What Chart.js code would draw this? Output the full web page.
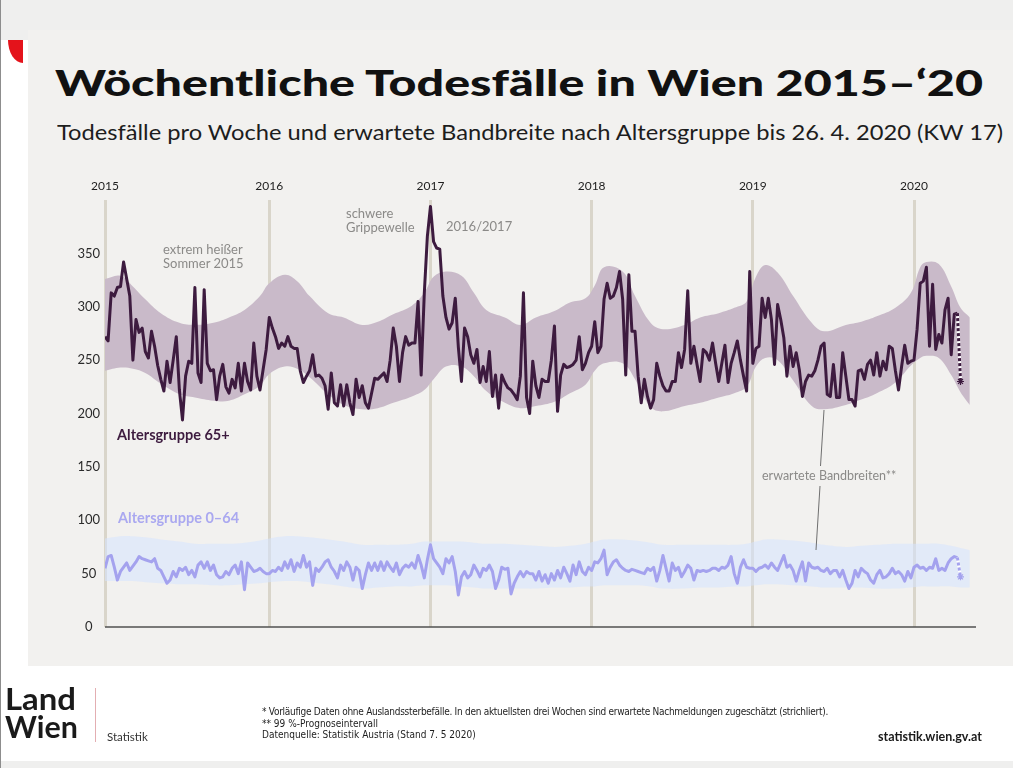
<!DOCTYPE html>
<html lang="de">
<head>
<meta charset="utf-8">
<title>Wöchentliche Todesfälle in Wien 2015–‘20</title>
<script src="https://cdn.jsdelivr.net/npm/chart.js@4.4.0/dist/chart.umd.min.js"></script>
<style>
  html, body { margin: 0; padding: 0; }
  body { width: 1013px; height: 768px; position: relative; overflow: hidden; background: #efefee; font-family: Lato, "Open Sans", sans-serif; }
  .panel { position: absolute; left: 28px; top: 30px; width: 985px; height: 636px; background: #f2f1ef; }
  .strip { position: absolute; left: 0; top: 40px; width: 28px; height: 628px; background: #fff; }
  .corner { position: absolute; left: 8px; top: 40px; width: 15px; height: 23px; background: #e4131b; border-bottom-left-radius: 100% 100%; }
  .footer { position: absolute; left: 0; top: 666px; width: 1013px; height: 95px; background: #fff; }
  .edge { position: absolute; left: 0; top: 0; width: 1px; height: 768px; background: #8d8d8d; }
  .txt { position: absolute; white-space: nowrap; transform-origin: 0 0; }
  #title { left: 55px; top: 64px; font-size: 36px; line-height: 36px; font-weight: 900; color: #111; }
  #subtitle { left: 57px; top: 121px; font-size: 21px; line-height: 21px; color: #1d1d1d; }
  .note { font-size: 13px; line-height: 13.5px; color: #8b8a88; }
  .group { font-size: 14.5px; line-height: 14.5px; font-weight: 700; }
  #wrap { position: absolute; left: 28px; top: 150px; width: 985px; height: 500px; }
  .foot { font-family: "Liberation Sans Narrow", "DejaVu Sans Condensed", sans-serif; font-size: 10px; line-height: 10px; color: #1d1d1d; left: 262px; }
  .brand { left: 5px; font-size: 31px; line-height: 31px; font-weight: 700; color: #1a1a1a; }
  svg { position: absolute; left: 0; top: 0; }
</style>
</head>
<body>
<div class="panel"></div>
<div class="strip"></div>
<div class="corner"></div>
<div class="footer"></div>
<div class="edge"></div>

<div class="txt" id="title">Wöchentliche Todesfälle in Wien 2015–‘20</div>
<div class="txt" id="subtitle">Todesfälle pro Woche und erwartete Bandbreite nach Altersgruppe bis 26. 4. 2020 (KW 17)</div>

<div id="wrap"><canvas id="deaths"></canvas></div>

<div class="txt note" style="left:163px; top:243px;">extrem heißer<br>Sommer 2015</div>
<div class="txt note" style="left:346px; top:207px;">schwere<br>Grippewelle</div>
<div class="txt note" style="left:446px; top:220px;">2016/2017</div>
<div class="txt group" id="lab65" style="left:117px; top:428px; color:#3d1b3f;">Altersgruppe 65+</div>
<div class="txt group" id="lab064" style="left:118px; top:511px; color:#aaa8f0;">Altersgruppe 0–64</div>
<div class="txt note" id="labband" style="left:762px; top:469px; font-size:12.5px;">erwartete Bandbreiten**</div>
<svg width="1013" height="768">
  <line x1="824" y1="410" x2="820.5" y2="466" stroke="#6f6f6f" stroke-width="1"/>
  <line x1="820" y1="486" x2="816" y2="550" stroke="#6f6f6f" stroke-width="1"/>
  <line x1="95.5" y1="688" x2="95.5" y2="742" stroke="#e3aeb2" stroke-width="1"/>
</svg>

<div class="txt brand" id="land" style="top:683px;">Land</div>
<div class="txt brand" id="wien" style="top:711px;">Wien</div>
<div class="txt" style="left:107px; top:730px; font-size:11.5px; color:#333;">Statistik</div>
<div class="txt foot" id="f1" style="top:707px;">* Vorläufige Daten ohne Auslandssterbefälle. In den aktuellsten drei Wochen sind erwartete Nachmeldungen zugeschätzt (strichliert).</div>
<div class="txt foot" id="f2" style="top:718.5px;">** 99 %-Prognoseintervall</div>
<div class="txt foot" id="f3" style="top:730px;">Datenquelle: Statistik Austria (Stand 7. 5 2020)</div>
<div class="txt" id="url" style="left:878px; top:729px; font-size:12.5px; font-weight:700; color:#1a1a1a;">statistik.wien.gv.at</div>

<script>
// week index 0 = KW 1/2015, years start at these indices
var yearStarts = [0, 53, 105, 157, 209, 261];
var yearLabels = ['2015', '2016', '2017', '2018', '2019', '2020'];

// deaths per week, age group 65+
var deaths65_2015 = [272, 268, 313, 310, 318, 319, 342, 326, 310, 250, 288, 276, 280, 258, 252, 277, 263, 245, 232, 221,
    249, 229, 250, 272, 222, 194, 235, 249, 247, 318, 238, 229, 316, 247, 240, 241, 213, 235, 246, 225,
    219, 232, 224, 247, 221, 247, 230, 222, 266, 235, 222, 241, 260];
var deaths65_2016 = [290, 280, 272, 261, 266, 263, 272, 263, 261, 261, 240, 229, 235, 240, 255, 235, 236, 233, 226, 204,
    238, 210, 207, 227, 207, 227, 210, 199, 232, 215, 226, 210, 205, 219, 233, 232, 235, 238, 230, 250,
    280, 263, 230, 257, 272, 264, 266, 266, 305, 236, 312, 366];
var deaths65_2017 = [394, 361, 355, 354, 310, 290, 279, 285, 308, 262, 230, 280, 272, 255, 247, 260, 229, 244, 230, 258,
    216, 236, 205, 236, 229, 224, 222, 218, 213, 235, 313, 215, 200, 249, 226, 215, 232, 230, 230, 250,
    282, 202, 236, 246, 243, 244, 246, 250, 272, 241, 247, 257];
var deaths65_2018 = [263, 286, 257, 263, 307, 322, 308, 310, 318, 333, 307, 236, 330, 277, 277, 235, 210, 232, 216, 205,
    213, 247, 235, 226, 221, 221, 230, 230, 257, 243, 260, 315, 247, 263, 246, 230, 260, 257, 250, 266,
    247, 230, 247, 264, 229, 247, 257, 268, 250, 235, 221, 333];
var deaths65_2019 = [247, 261, 263, 308, 290, 308, 288, 246, 302, 288, 271, 235, 263, 244, 257, 241, 216, 230, 236, 235,
    240, 250, 263, 266, 218, 216, 246, 215, 215, 257, 235, 213, 213, 207, 240, 241, 232, 246, 250, 236,
    257, 235, 249, 241, 263, 261, 240, 222, 244, 264, 247, 249];
var deaths65_2020 = [250, 279, 322, 324, 337, 263, 321, 260, 274, 266, 297, 308, 255, 293, 294];

// deaths per week, age group 0-64
var deaths064_2015 = [55, 66, 67, 56, 44, 52, 56, 60, 53, 57, 61, 66, 64, 63, 62, 61, 64, 55, 53, 47,
    41, 44, 52, 47, 55, 53, 56, 49, 53, 47, 58, 61, 55, 61, 53, 58, 49, 46, 47, 52,
    49, 55, 58, 50, 61, 35, 60, 56, 52, 53, 55, 52, 50];
var deaths064_2016 = [50, 53, 52, 56, 53, 61, 55, 63, 52, 60, 56, 67, 56, 61, 39, 55, 52, 56, 61, 63,
    56, 52, 46, 58, 53, 61, 56, 44, 56, 53, 36, 49, 60, 53, 60, 53, 61, 53, 61, 56,
    52, 60, 49, 55, 58, 56, 60, 55, 67, 58, 46, 63];
var deaths064_2017 = [77, 64, 60, 56, 50, 64, 60, 66, 52, 30, 47, 52, 46, 49, 58, 53, 47, 55, 53, 58,
    52, 36, 44, 56, 54, 55, 31, 41, 47, 52, 47, 52, 50, 50, 44, 52, 43, 49, 41, 50,
    44, 53, 46, 56, 50, 43, 58, 49, 61, 52, 49, 56];
var deaths064_2018 = [53, 61, 60, 64, 72, 49, 56, 61, 63, 58, 55, 53, 52, 54, 53, 52, 51, 50, 55, 53,
    56, 43, 53, 67, 55, 43, 60, 53, 56, 47, 52, 58, 55, 44, 53, 52, 53, 52, 53, 55,
    55, 53, 56, 55, 58, 66, 50, 41, 56, 63, 56, 55];
var deaths064_2019 = [55, 52, 55, 56, 58, 55, 60, 56, 53, 60, 67, 56, 58, 53, 43, 53, 61, 43, 60, 56,
    55, 56, 53, 52, 55, 50, 53, 53, 47, 53, 44, 36, 41, 53, 47, 55, 52, 50, 44, 41,
    49, 53, 46, 47, 50, 55, 50, 52, 49, 43, 52, 46];
var deaths064_2020 = [56, 58, 55, 56, 53, 56, 55, 64, 53, 55, 53, 60, 64, 66, 65];

// latest weeks incl. estimated late reports (dotted)
var estimateWeeks = [275, 276];
var estimate65 = [294, 230];
var estimate064 = [65, 47];

// expected range (99 % interval), sampled weeks
var bandWeeks = [0, 5, 9, 13, 18, 24, 29, 35, 40, 45, 50, 53, 58, 62, 66, 72, 77, 83, 88, 93,
    99, 103, 106, 110, 115, 119, 123, 129, 134, 139, 145, 150, 155, 158, 161, 167, 171, 176, 180, 187,
    192, 198, 203, 207, 210, 213, 217, 222, 228, 232, 239, 244, 249, 255, 260, 263, 265, 269, 273, 276, 279];
var bandUpper65 = [326, 329, 319, 307, 294, 285, 283, 285, 290, 297, 310, 322, 330, 324, 310, 294, 290, 283, 286, 293,
    301, 313, 328, 333, 329, 313, 297, 290, 283, 290, 296, 304, 308, 320, 337, 333, 310, 285, 279, 283,
    290, 294, 299, 305, 328, 339, 332, 310, 285, 277, 283, 286, 291, 299, 313, 337, 342, 340, 319, 299, 290];
var bandLower65 = [240, 243, 242, 238, 228, 218, 215, 212, 212, 218, 226, 237, 244, 242, 234, 218, 208, 204, 205, 210,
    216, 222, 232, 244, 244, 235, 221, 210, 205, 207, 211, 219, 227, 240, 247, 247, 232, 206, 202, 207,
    210, 215, 219, 225, 244, 252, 250, 231, 207, 204, 208, 213, 219, 229, 245, 252, 254, 252, 236, 220, 208];
var bandUpper064 = [83, 85, 85, 84, 82, 80, 78, 78, 78, 79, 81, 83, 85, 85, 84, 82, 80, 77, 77, 77,
    78, 80, 80, 80, 80, 79, 78, 78, 77, 76, 75, 76, 78, 80, 82, 82, 81, 79, 77, 77,
    77, 77, 77, 78, 80, 82, 82, 81, 79, 77, 75, 76, 77, 78, 78, 78, 78, 78, 76, 74, 72];
var bandLower064 = [43, 43, 43, 42, 41, 40, 40, 39, 39, 40, 41, 42, 43, 43, 42, 40, 38, 36, 37, 38,
    38, 39, 39, 39, 38, 37, 36, 36, 36, 36, 37, 37, 38, 38, 39, 39, 39, 38, 36, 36,
    37, 37, 38, 38, 39, 40, 40, 39, 38, 37, 37, 37, 36, 36, 37, 38, 38, 38, 38, 37, 37];

var yTicksMax = 350;

function weekly(years) {
    var out = [];
    var x = 0;
    years.forEach(function (arr) {
        arr.forEach(function (v) {
            out.push({ x: x, y: v });
            x++;
        });
    });
    return out;
}

function sampled(weeks, values) {
    return weeks.map(function (w, i) {
        return { x: w, y: values[i] };
    });
}

var line65 = weekly([deaths65_2015, deaths65_2016, deaths65_2017, deaths65_2018, deaths65_2019, deaths65_2020]);
var line064 = weekly([deaths064_2015, deaths064_2016, deaths064_2017, deaths064_2018, deaths064_2019, deaths064_2020]);

var baseLine = {
    id: 'baseLine',
    beforeDatasetsDraw: function (chart) {
        var c = chart.ctx;
        var area = chart.chartArea;
        var y = chart.scales.y.getPixelForValue(0);
        c.save();
        c.strokeStyle = '#505050';
        c.lineWidth = 1.5;
        c.beginPath();
        c.moveTo(area.left, y);
        c.lineTo(area.right, y);
        c.stroke();
        c.restore();
    }
};

var ctx = document.getElementById('deaths').getContext('2d');
var deathsChart = new Chart(ctx, {
    type: 'line',
    data: {
        datasets: [
            {
                label: 'Bandbreite 65+ oben',
                data: sampled(bandWeeks, bandUpper65),
                fill: '+1',
                backgroundColor: '#c9bac9',
                borderWidth: 0,
                tension: 0.4,
                order: 6
            },
            {
                label: 'Bandbreite 65+ unten',
                data: sampled(bandWeeks, bandLower65),
                fill: false,
                borderWidth: 0,
                tension: 0.4,
                order: 6
            },
            {
                label: 'Bandbreite 0-64 oben',
                data: sampled(bandWeeks, bandUpper064),
                fill: '+1',
                backgroundColor: 'rgba(214, 227, 255, 0.55)',
                borderWidth: 0,
                tension: 0.4,
                order: 6
            },
            {
                label: 'Bandbreite 0-64 unten',
                data: sampled(bandWeeks, bandLower064),
                fill: false,
                borderWidth: 0,
                tension: 0.4,
                order: 6
            },
            {
                label: 'Altersgruppe 65+',
                data: line65,
                borderColor: '#3d1b3f',
                borderWidth: 3,
                borderJoinStyle: 'round',
                fill: false,
                order: 3
            },
            {
                label: 'Schätzung 65+ Hintergrund',
                data: sampled(estimateWeeks, estimate65),
                borderColor: '#ffffff',
                borderWidth: 3,
                fill: false,
                order: 2
            },
            {
                label: 'Schätzung 65+',
                data: sampled(estimateWeeks, estimate65),
                borderColor: '#3d1b3f',
                borderWidth: 3,
                borderDash: [3, 2],
                fill: false,
                pointStyle: 'star',
                pointRadius: [0, 3.5],
                pointBorderColor: '#3d1b3f',
                pointBorderWidth: 1.2,
                order: 1
            },
            {
                label: 'Altersgruppe 0-64',
                data: line064,
                borderColor: '#a4a2ee',
                borderWidth: 3,
                borderJoinStyle: 'round',
                fill: false,
                order: 3
            },
            {
                label: 'Schätzung 0-64 Hintergrund',
                data: sampled(estimateWeeks, estimate064),
                borderColor: '#ffffff',
                borderWidth: 3,
                fill: false,
                order: 2
            },
            {
                label: 'Schätzung 0-64',
                data: sampled(estimateWeeks, estimate064),
                borderColor: '#a4a2ee',
                borderWidth: 3,
                borderDash: [3, 2],
                fill: false,
                pointStyle: 'star',
                pointRadius: [0, 3.5],
                pointBorderColor: '#a4a2ee',
                pointBorderWidth: 1.2,
                order: 1
            }
        ]
    },
    options: {
        responsive: true,
        maintainAspectRatio: false,
        animation: false,
        layout: {
            padding: { left: 37, right: 37, top: 22, bottom: 23 }
        },
        elements: {
            point: { radius: 0 }
        },
        scales: {
            x: {
                type: 'linear',
                position: 'top',
                min: 0,
                max: 281,
                afterBuildTicks: function (scale) {
                    scale.ticks = yearStarts.map(function (v) { return { value: v }; });
                },
                afterFit: function (scale) {
                    scale.height = 28;
                },
                ticks: {
                    padding: 7,
                    maxRotation: 0,
                    color: '#1e1e1e',
                    font: { family: 'Lato', size: 12 },
                    callback: function (value) {
                        return yearLabels[yearStarts.indexOf(value)];
                    }
                },
                grid: {
                    color: '#d9d5ca',
                    lineWidth: 3,
                    drawTicks: false
                },
                border: { display: false }
            },
            y: {
                min: 0,
                max: 400,
                afterBuildTicks: function (scale) {
                    scale.ticks = scale.ticks.filter(function (t) { return t.value <= yTicksMax; });
                },
                afterFit: function (scale) {
                    scale.width = 40;
                },
                ticks: {
                    stepSize: 50,
                    padding: 5,
                    crossAlign: 'center',
                    color: '#2b2b2b',
                    font: { family: 'Lato', size: 13 }
                },
                grid: { display: false, drawTicks: false },
                border: { display: false }
            }
        },
        plugins: {
            legend: { display: false },
            tooltip: { enabled: false }
        }
    },
    plugins: [baseLine]
});

// stretch a text horizontally to the width it has in the original layout
function fitScale(id, target) {
    var el = document.getElementById(id);
    var w = el.getBoundingClientRect().width;
    el.style.transform = 'scaleX(' + (target / w) + ')';
}

function fitWidth(id, target) {
    var el = document.getElementById(id);
    var w = el.getBoundingClientRect().width;
    var n = el.textContent.length;
    el.style.letterSpacing = ((target - w) / n) + 'px';
}

fitScale('title', 928);
fitScale('subtitle', 946);
fitScale('land', 71);
fitScale('wien', 73);
fitWidth('f1', 566);
</script>
</body>
</html>
